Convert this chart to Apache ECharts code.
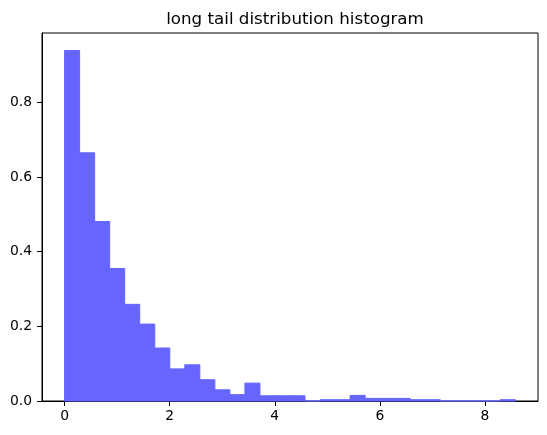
<!DOCTYPE html>
<html>
<head>
<meta charset="utf-8">
<script src="https://cdn.jsdelivr.net/npm/echarts@6/dist/echarts.min.js"></script>
<style>
  html, body { margin: 0; padding: 0; background: #fff; }
  #main { width: 547px; height: 435px; }
</style>
</head>
<body>
<div id="main"></div>
<script>
// bin edges of the 30-bin histogram (value units)
var binEdges = [0, 0.286, 0.572, 0.858, 1.144, 1.43, 1.716, 2.002, 2.288, 2.574, 2.86,
  3.146, 3.432, 3.718, 4.004, 4.29, 4.576, 4.862, 5.148, 5.434, 5.72,
  6.006, 6.292, 6.578, 6.864, 7.15, 7.436, 7.722, 8.008, 8.294, 8.58];
// density of each bin
var densities = [0.939, 0.665, 0.481, 0.355, 0.259, 0.206, 0.142, 0.086, 0.097, 0.057,
  0.030, 0.017, 0.048, 0.014, 0.014, 0.014, 0, 0.0035, 0.0035, 0.015,
  0.007, 0.007, 0.007, 0.0035, 0.0035, 0, 0, 0, 0, 0.0035];
var xTicks = [0, 2, 4, 6, 8];
var yTicks = [0, 0.2, 0.4, 0.6, 0.8];

var chart = echarts.init(document.getElementById('main'));

var seriesData = [];
for (var i = 0; i < densities.length; i++) {
  seriesData.push([binEdges[i], binEdges[i + 1], densities[i]]);
}

var axisFont = { fontFamily: 'DejaVu Sans', fontSize: 13.9, color: '#000' };

chart.setOption({
  animation: false,
  title: {
    text: 'long tail distribution histogram',
    left: 290,
    top: 6,
    textAlign: 'center',
    textStyle: { fontFamily: 'DejaVu Sans', fontSize: 16.7, fontWeight: 'normal', color: '#000' }
  },
  grid: {
    left: 42, right: 9, top: 33, bottom: 34,
    show: true, borderColor: '#000', borderWidth: 1
  },
  xAxis: {
    type: 'value',
    min: -0.43,
    max: 9.01,
    axisLine: { show: true, onZero: false, lineStyle: { color: '#000', width: 1 } },
    axisTick: { show: true, length: 5, customValues: xTicks, lineStyle: { color: '#000' } },
    axisLabel: Object.assign({ margin: 8, customValues: xTicks, formatter: function (v) { return String(v); } }, axisFont),
    splitLine: { show: false }
  },
  yAxis: {
    type: 'value',
    min: 0,
    max: 0.986,
    axisLine: { show: true, onZero: false, lineStyle: { color: '#000', width: 1 } },
    axisTick: { show: true, length: 5, customValues: yTicks, lineStyle: { color: '#000' } },
    axisLabel: Object.assign({ margin: 10, customValues: yTicks, formatter: function (v) { return v.toFixed(1); } }, axisFont),
    splitLine: { show: false }
  },
  series: [{
    type: 'custom',
    data: seriesData,
    encode: { x: [0, 1], y: 2 },
    renderItem: function (params, api) {
      var p0 = api.coord([api.value(0), api.value(2)]);
      var p1 = api.coord([api.value(1), 0]);
      return {
        type: 'rect',
        shape: { x: p0[0], y: p0[1], width: p1[0] - p0[0], height: p1[1] - p0[1] },
        style: { fill: '#6666ff', stroke: '#6666ff', lineWidth: 1 }
      };
    }
  }]
});
</script>
</body>
</html>
